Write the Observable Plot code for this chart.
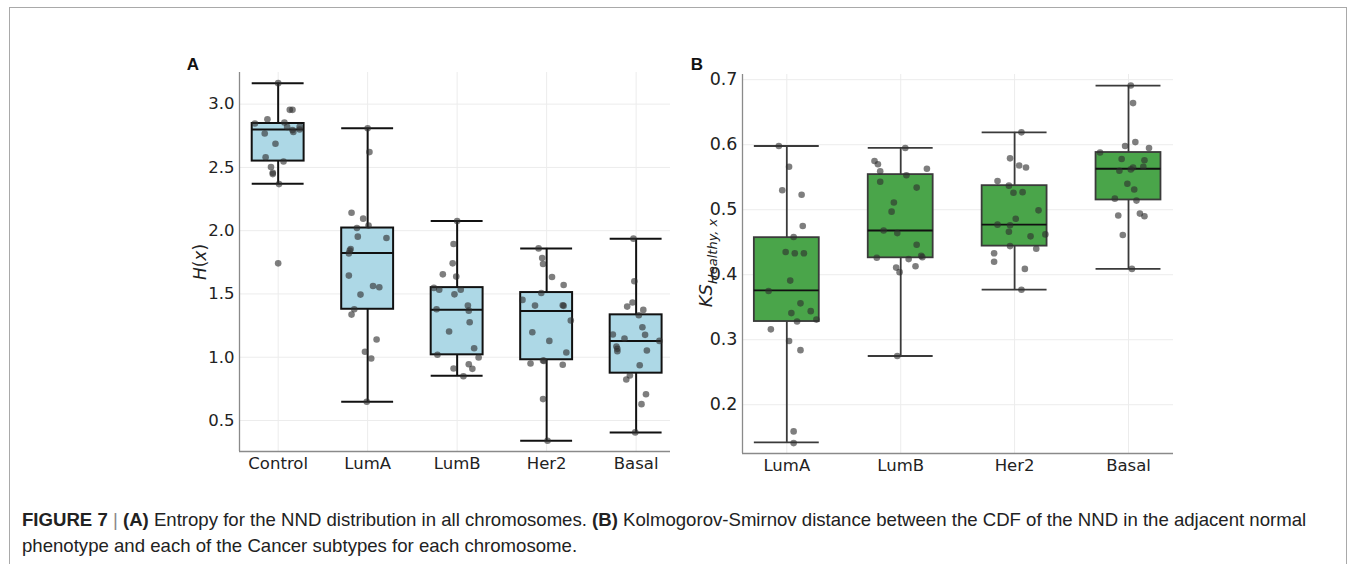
<!DOCTYPE html>
<html>
<head>
<meta charset="utf-8">
<script src="https://cdn.jsdelivr.net/npm/d3@7"></script>
<script src="https://cdn.jsdelivr.net/npm/@observablehq/plot@0.6"></script>
<style>
  body { margin: 0; background: #fff; }
  #wrap { position: relative; width: 1355px; height: 564px; overflow: hidden; background: #fff; }
  #frame { position: absolute; left: 9px; top: 7px; width: 1336px; height: 700px; border: 1px solid #a9a9a9; }
  #a { position: absolute; left: 0; top: 0; }
  #b { position: absolute; left: 690px; top: 0; }
  #cap { position: absolute; left: 22px; top: 507px; width: 1305px; font-family: "Liberation Sans", Arial, sans-serif; font-size: 18.6px; line-height: 26px; color: #222; }
  #cap b { font-weight: bold; }
  #cap .sep { color: #888; }
</style>
</head>
<body>
<div id="wrap">
  <div id="frame"></div>
  <div id="a"></div>
  <div id="b"></div>
  <div id="cap"><b>FIGURE 7</b> <span class="sep">|</span> <b>(A)</b> Entropy for the NND distribution in all chromosomes. <b>(B)</b> Kolmogorov-Smirnov distance between the CDF of the NND in the adjacent normal phenotype and each of the Cancer subtypes for each chromosome.</div>
</div>
<script>
// ---------- Panel A: entropy H(x) ----------
const catsA = ["Control", "LumA", "LumB", "Her2", "Basal"];
const q1A  = [2.55, 1.379, 1.019, 0.98, 0.874];
const medA = [2.80, 1.824, 1.376, 1.366, 1.129];
const q3A  = [2.847, 2.021, 1.55, 1.511, 1.335];
const loA  = [2.37, 0.648, 0.853, 0.34, 0.406];
const hiA  = [3.166, 2.81, 2.077, 1.86, 1.937];
const valuesA = [
  [3.166, 2.88, 2.847, 2.855, 2.955, 2.955, 2.82, 2.795, 2.78, 2.82, 2.80, 2.768, 2.687, 2.58, 2.547, 2.503, 2.458, 2.447, 2.368, 1.742],
  [2.81, 2.621, 2.142, 2.095, 2.021, 2.04, 1.953, 1.942, 1.855, 1.842, 1.821, 1.645, 1.563, 1.553, 1.495, 1.379, 1.337, 1.14, 1.043, 0.99, 0.648],
  [2.077, 1.895, 1.742, 1.655, 1.637, 1.548, 1.534, 1.534, 1.497, 1.408, 1.379, 1.368, 1.276, 1.203, 1.071, 1.019, 0.998, 0.945, 0.911, 0.908, 0.85],
  [1.86, 1.784, 1.737, 1.634, 1.571, 1.508, 1.453, 1.408, 1.411, 1.406, 1.29, 1.197, 1.129, 1.037, 0.974, 0.971, 0.95, 0.94, 0.669, 0.34],
  [1.937, 1.6, 1.432, 1.4, 1.374, 1.332, 1.237, 1.18, 1.177, 1.148, 1.129, 1.084, 1.066, 1.047, 1.053, 0.937, 0.856, 0.824, 0.708, 0.629, 0.406]
];
const jitterA = [
  [0.0, -0.12, -0.26, 0.07, 0.13, 0.16, 0.10, 0.16, 0.17, 0.24, 0.24, -0.15, -0.03, -0.14, 0.06, -0.08, -0.06, -0.06, 0.01, 0.0],
  [0.0, 0.02, -0.18, -0.05, -0.12, 0.01, -0.11, 0.21, -0.19, -0.20, -0.21, -0.21, 0.06, 0.13, -0.08, -0.15, -0.18, 0.10, -0.03, 0.04, -0.01],
  [0.0, -0.04, -0.05, -0.16, -0.01, -0.26, -0.20, 0.04, -0.03, 0.12, -0.23, 0.13, 0.14, -0.09, 0.19, -0.22, 0.24, 0.13, -0.04, 0.17, 0.07],
  [-0.09, -0.05, -0.04, 0.06, 0.19, -0.06, -0.27, -0.13, 0.18, 0.19, 0.27, -0.16, 0.03, 0.22, -0.04, -0.03, -0.18, 0.18, -0.04, 0.01],
  [-0.03, -0.02, -0.04, -0.10, 0.08, 0.03, 0.07, -0.26, 0.10, -0.13, 0.26, -0.22, -0.21, -0.21, 0.12, 0.04, -0.07, -0.11, 0.11, 0.06, -0.01]
];
const ticksA = [0.5, 1.0, 1.5, 2.0, 2.5, 3.0];

// ---------- Panel B: KS distance ----------
const catsB = ["LumA", "LumB", "Her2", "Basal"];
const q1B  = [0.328, 0.426, 0.444, 0.515];
const medB = [0.376, 0.468, 0.477, 0.563];
const q3B  = [0.457, 0.554, 0.537, 0.588];
const loB  = [0.142, 0.275, 0.377, 0.409];
const hiB  = [0.598, 0.595, 0.619, 0.691];
const valuesB = [
  [0.598, 0.566, 0.530, 0.523, 0.475, 0.458, 0.435, 0.433, 0.433, 0.391, 0.375, 0.356, 0.341, 0.344, 0.328, 0.331, 0.316, 0.298, 0.284, 0.159, 0.141],
  [0.595, 0.575, 0.57, 0.559, 0.563, 0.553, 0.543, 0.534, 0.511, 0.497, 0.468, 0.464, 0.446, 0.429, 0.427, 0.426, 0.424, 0.413, 0.411, 0.404, 0.275],
  [0.619, 0.579, 0.568, 0.565, 0.544, 0.537, 0.526, 0.527, 0.499, 0.486, 0.477, 0.476, 0.466, 0.459, 0.462, 0.444, 0.44, 0.433, 0.42, 0.409, 0.377],
  [0.691, 0.664, 0.604, 0.598, 0.595, 0.588, 0.578, 0.576, 0.565, 0.566, 0.56, 0.562, 0.54, 0.531, 0.517, 0.514, 0.494, 0.49, 0.491, 0.461, 0.409]
];
const jitterB = [
  [-0.07, 0.02, -0.04, 0.13, 0.14, 0.06, -0.01, 0.07, 0.15, 0.03, -0.16, 0.12, 0.04, 0.21, 0.09, 0.26, -0.14, 0.02, 0.12, 0.06, 0.06],
  [0.04, -0.23, -0.20, -0.18, 0.23, 0.05, -0.18, 0.14, -0.06, -0.08, -0.15, -0.03, 0.14, 0.18, 0.19, -0.21, 0.07, 0.13, -0.04, -0.01, -0.03],
  [0.06, -0.04, 0.04, 0.10, -0.15, -0.05, -0.01, 0.07, 0.21, 0.01, -0.15, -0.04, -0.05, 0.14, 0.27, -0.04, 0.19, -0.18, -0.18, 0.09, 0.06],
  [0.02, 0.04, 0.06, -0.03, 0.18, -0.25, -0.06, 0.14, 0.04, 0.13, -0.08, 0.02, -0.01, 0.05, -0.12, 0.07, 0.10, 0.14, -0.09, -0.05, 0.03]
];
const ticksB = [0.2, 0.3, 0.4, 0.5, 0.6, 0.7];

function boxChart(o) {
  const stats = o.cats.map((c, i) => ({i, q1: o.q1[i], med: o.med[i], q3: o.q3[i], lo: o.lo[i], hi: o.hi[i]}));
  const pts = o.values.flatMap((vs, i) => vs.map((v, k) => ({i, v, j: o.jitter[i][k]})));
  const hw = o.halfWidth;
  const idx = o.cats.map((c, i) => i);
  return Plot.plot({
    width: o.width, height: o.height,
    marginLeft: o.ml, marginRight: o.mr, marginTop: o.mt, marginBottom: o.mb,
    style: {fontFamily: "DejaVu Sans, sans-serif", color: "#222", background: "transparent"},
    x: {type: "linear", domain: o.xDomain, axis: null},
    y: {domain: o.yDomain, axis: null},
    marks: [
      Plot.gridX(idx, {stroke: "#ececec", strokeOpacity: 1, strokeWidth: 1}),
      Plot.gridY(o.ticks, {stroke: "#ececec", strokeOpacity: 1, strokeWidth: 1}),
      Plot.ruleX([o.xDomain[0]], {stroke: "#8a8a8a", strokeWidth: 1.3}),
      Plot.ruleY([o.yDomain[0]], {stroke: "#8a8a8a", strokeWidth: 1.3}),
      Plot.axisY({ticks: o.ticks, tickFormat: d3.format(".1f"), tickSize: 0, tickPadding: 5, fontSize: o.yFont, label: null}),
      Plot.axisX({ticks: idx, tickFormat: i => o.cats[i], tickSize: 0, tickPadding: 6, fontSize: o.xFont, label: null}),
      Plot.ruleX(stats, {x: "i", y1: "q3", y2: "hi", stroke: o.edge, strokeWidth: o.lw}),
      Plot.ruleX(stats, {x: "i", y1: "lo", y2: "q1", stroke: o.edge, strokeWidth: o.lw}),
      Plot.ruleY(stats, {y: "hi", x1: d => d.i - hw, x2: d => d.i + hw, stroke: o.edge, strokeWidth: o.lw}),
      Plot.ruleY(stats, {y: "lo", x1: d => d.i - hw, x2: d => d.i + hw, stroke: o.edge, strokeWidth: o.lw}),
      Plot.rect(stats, {x1: d => d.i - hw, x2: d => d.i + hw, y1: "q1", y2: "q3", fill: o.fill, stroke: o.edge, strokeWidth: o.lw}),
      Plot.ruleY(stats, {y: "med", x1: d => d.i - hw, x2: d => d.i + hw, stroke: o.medEdge, strokeWidth: o.lw}),
      Plot.dot(pts, {x: d => d.i + d.j, y: "v", r: 3.3, fill: "#2e2e2e", fillOpacity: 0.62, stroke: "none"})
    ]
  });
}

const svgA = boxChart({
  cats: catsA, q1: q1A, med: medA, q3: q3A, lo: loA, hi: hiA, values: valuesA, jitter: jitterA, ticks: ticksA,
  width: 700, height: 480, ml: 239, mr: 30, mt: 72, mb: 29,
  xDomain: [-0.432, 4.384], yDomain: [0.255, 3.25], halfWidth: 0.29,
  fill: "#add8e6", edge: "#111", medEdge: "#111", lw: 2, yFont: 16.5, xFont: 16.5
});
document.getElementById("a").appendChild(svgA);

const svgB = boxChart({
  cats: catsB, q1: q1B, med: medB, q3: q3B, lo: loB, hi: hiB, values: valuesB, jitter: jitterB, ticks: ticksB,
  width: 520, height: 480, ml: 52, mr: 37, mt: 74, mb: 27,
  xDomain: [-0.389, 3.395], yDomain: [0.125, 0.708], halfWidth: 0.285,
  fill: "#4aa54a", edge: "#3a3a3a", medEdge: "#111", lw: 1.8, yFont: 17.5, xFont: 16.5
});
document.getElementById("b").appendChild(svgB);

// axis titles & panel letters
const sa = d3.select(svgA);
const ta = sa.append("text").attr("transform", "translate(206,262) rotate(-90)")
  .attr("text-anchor", "middle").attr("font-family", "DejaVu Sans").attr("font-size", 17).attr("fill", "#222");
ta.append("tspan").attr("font-style", "italic").text("H");
ta.append("tspan").text("(");
ta.append("tspan").attr("font-style", "italic").text("x");
ta.append("tspan").text(")");
sa.append("text").attr("x", 193).attr("y", 70).attr("font-family", "Liberation Sans, Arial").attr("font-weight", "bold").attr("font-size", 17).attr("fill", "#111").text("A");

const sb = d3.select(svgB);
const tb = sb.append("text").attr("transform", "translate(22,263) rotate(-90)")
  .attr("text-anchor", "middle").attr("font-family", "DejaVu Sans").attr("font-style", "italic").attr("fill", "#222");
tb.append("tspan").attr("font-size", 18).text("KS");
tb.append("tspan").attr("font-size", 13).attr("dy", 5).text("Healthy, x");
sb.append("text").attr("x", 7).attr("y", 70).attr("font-family", "Liberation Sans, Arial").attr("font-weight", "bold").attr("font-size", 17).attr("fill", "#111").text("B");
</script>
</body>
</html>
